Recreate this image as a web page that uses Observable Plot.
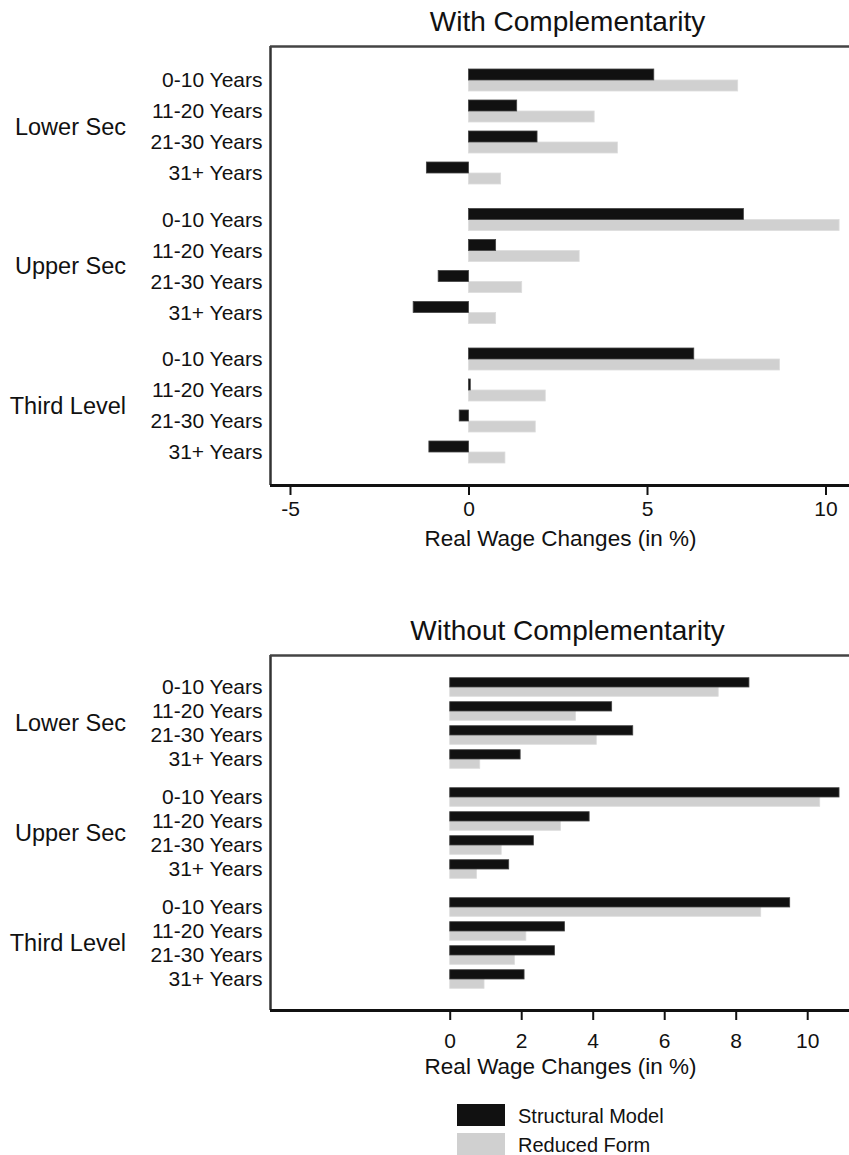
<!DOCTYPE html>
<html>
<head>
<meta charset="utf-8">
<script src="https://cdn.jsdelivr.net/npm/d3@7"></script>
<script src="https://cdn.jsdelivr.net/npm/@observablehq/plot@0.6"></script>
<style>
  html, body { margin: 0; padding: 0; background: #fff; width: 849px; height: 1155px; overflow: hidden; }
  #top, #bottom, #legend { position: absolute; left: 0; }
  #top { top: 0; }
  #bottom { top: 600px; }
  svg { max-width: none !important; }
  [aria-label="x-axis tick"] path, [aria-label="x-axis"] .tick line { stroke-width: 2; }
  .sw { position: absolute; width: 48px; height: 22px; }
  .lt { position: absolute; font: 20px "Liberation Sans", Arial, sans-serif; color: #111; line-height: 22px; white-space: nowrap; }
</style>
</head>
<body>
<div id="top"></div>
<div id="bottom"></div>
<div id="legend"></div>
<script>
// ---- data ----
const groups = ["Lower Sec", "Upper Sec", "Third Level"];
const ages = ["0-10 Years", "11-20 Years", "21-30 Years", "31+ Years"];
const seriesNames = ["Structural Model", "Reduced Form"];
const seriesColors = ["#111111", "#d0d0d0"];

// With Complementarity (real wage change, %)
const withStructural = [5.19, 1.35, 1.92, -1.18, 7.70, 0.76, -0.85, -1.55, 6.31, 0.05, -0.26, -1.11];
const withReduced    = [7.54, 3.52, 4.17, 0.90, 10.38, 3.10, 1.49, 0.76, 8.71, 2.15, 1.87, 1.02];
// Without Complementarity
const withoutStructural = [8.37, 4.53, 5.12, 1.97, 10.89, 3.90, 2.34, 1.65, 9.51, 3.21, 2.93, 2.08];
const withoutReduced    = [7.51, 3.52, 4.10, 0.84, 10.35, 3.10, 1.44, 0.75, 8.70, 2.13, 1.81, 0.96];

const xTicksWith = [-5, 0, 5, 10];
const xTicksWithout = [0, 2, 4, 6, 8, 10];
const titles = ["With Complementarity", "Without Complementarity"];
const xLabel = "Real Wage Changes (in %)";

const FONT = '"Liberation Sans", Arial, Helvetica, sans-serif';

function buildRows(structural, reduced, groupStep) {
  const rows = [];
  groups.forEach((g, gi) => ages.forEach((a, ai) => {
    const i = gi * ages.length + ai;
    rows.push({group: g, age: a, pos: gi * groupStep + ai, structural: structural[i], reduced: reduced[i]});
  }));
  return rows;
}

function panel(o) {
  const groupStep = o.groupPx / o.rowPx;
  const rows = buildRows(o.structural, o.reduced, groupStep);
  const groupRows = groups.map((g, gi) => ({group: g, pos: gi * groupStep + (ages.length - 1) / 2}));
  const barH = o.barPx / o.rowPx;
  const yDomain = [(o.frameBottom - o.firstRow) / o.rowPx, (o.frameTop - o.firstRow) / o.rowPx];
  return Plot.plot({
    width: 849,
    height: o.height,
    marginLeft: 270,
    marginRight: 0,
    marginTop: o.frameTop,
    marginBottom: o.height - o.frameBottom,
    style: {fontFamily: FONT, fontSize: "21px", color: "#111", background: "white", overflow: "visible"},
    x: {domain: o.xDomain, ticks: o.ticks, tickSize: 10, tickPadding: o.tickPadding, tickFormat: d => String(d), label: null},
    y: {domain: yDomain, axis: null},
    marks: [
      Plot.rect(rows, {x1: () => 0, x2: "reduced", y1: "pos", y2: d => d.pos + barH, fill: seriesColors[1], stroke: "#dcdcdc", strokeWidth: 0.8}),
      Plot.rect(rows, {x1: () => 0, x2: "structural", y1: d => d.pos - barH, y2: "pos", fill: seriesColors[0], stroke: "#444", strokeWidth: 0.8}),
      Plot.ruleX([o.xDomain[0]], {stroke: "#333", strokeWidth: 2.5}),
      Plot.ruleY([yDomain[1]], {stroke: "#444", strokeWidth: 2.5}),
      Plot.ruleY([yDomain[0]], {stroke: "#111", strokeWidth: 3}),
      Plot.text(rows, {y: "pos", text: "age", frameAnchor: "left", dx: -8, textAnchor: "end", fontSize: 21, fill: "#111"}),
      Plot.text(groupRows, {y: "pos", text: "group", frameAnchor: "left", dx: -144.5, textAnchor: "end", fontSize: 23.5, fill: "#111"}),
      Plot.text([o.title], {text: d => d, frameAnchor: "top", lineAnchor: "middle", dx: 7.5, dy: -24, fontSize: 28, fill: "#111"}),
      Plot.text([xLabel], {text: d => d, frameAnchor: "bottom", lineAnchor: "middle", dx: 0.5, dy: o.axisTitleDy, fontSize: 22.5, fill: "#111"})
    ]
  });
}

document.getElementById("top").append(panel({
  structural: withStructural, reduced: withReduced, ticks: xTicksWith,
  xDomain: [-5.56, 10.658], height: 580, frameTop: 46, frameBottom: 485,
  firstRow: 80, rowPx: 31, groupPx: 139.5, barPx: 11, title: titles[0],
  tickPadding: 6, axisTitleDy: 53
}));

document.getElementById("bottom").append(panel({
  structural: withoutStructural, reduced: withoutReduced, ticks: xTicksWithout,
  xDomain: [-5.027, 11.169], height: 500, frameTop: 55, frameBottom: 410,
  firstRow: 87, rowPx: 24, groupPx: 110, barPx: 9.3, title: titles[1],
  tickPadding: 13, axisTitleDy: 56
}));

// legend
const legend = document.getElementById("legend");
seriesNames.forEach((name, i) => {
  const top = 1104 + i * 29;
  const sw = document.createElement("div");
  sw.className = "sw";
  sw.style.left = "457px";
  sw.style.top = top + "px";
  sw.style.background = seriesColors[i];
  legend.append(sw);
  const t = document.createElement("div");
  t.className = "lt";
  t.style.left = "518px";
  t.style.top = (top + 1) + "px";
  t.textContent = name;
  legend.append(t);
});
</script>
</body>
</html>
